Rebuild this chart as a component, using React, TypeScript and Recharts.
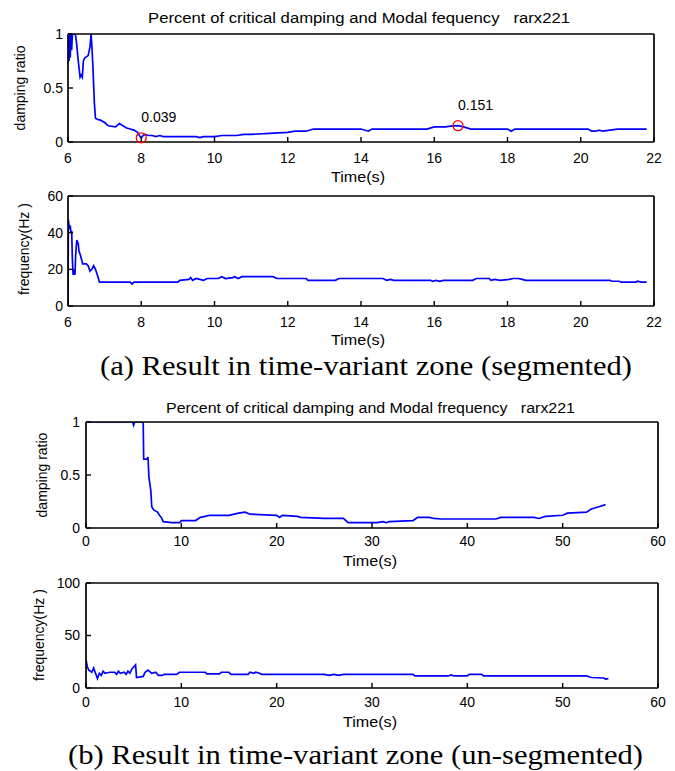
import { LineChart, Line, XAxis, YAxis, ReferenceDot } from 'recharts'

// x ticks
const segTimeTicks = [6, 8, 10, 12, 14, 16, 18, 20, 22]
const fullTimeTicks = [0, 10, 20, 30, 40, 50, 60]
// y ticks
const dampTicks = [0, 0.5, 1]
const segFreqTicks = [0, 20, 40, 60]
const fullFreqTicks = [0, 50, 100]

// (a) segmented: [time (s), damping ratio]
const segDamping: [number, number][] = [
  [6.0, 0.73], [6.02, 0.98], [6.03, 0.75], [6.05, 1.0], [6.06, 0.78], [6.08, 1.0], [6.1, 0.85],
  [6.12, 1.0], [6.2, 1.0], [6.24, 0.9], [6.28, 0.75], [6.33, 0.6], [6.36, 0.62], [6.39, 0.6],
  [6.42, 0.75], [6.46, 0.78], [6.55, 0.8], [6.6, 0.88], [6.63, 1.0], [6.65, 0.9], [6.68, 0.7],
  [6.72, 0.36], [6.75, 0.22], [6.8, 0.21], [6.9, 0.2], [7.0, 0.18], [7.1, 0.15], [7.3, 0.14],
  [7.4, 0.17], [7.5, 0.15], [7.6, 0.13], [7.7, 0.12], [7.8, 0.11], [7.9, 0.09], [7.95, 0.06],
  [8.0, 0.039], [8.05, 0.06], [8.1, 0.07], [8.2, 0.06], [8.3, 0.06], [8.4, 0.05], [8.5, 0.06],
  [8.6, 0.05], [9.0, 0.05], [9.5, 0.05], [9.6, 0.04], [9.7, 0.05], [10.0, 0.05], [10.2, 0.06],
  [10.6, 0.06], [10.8, 0.07], [11.0, 0.07], [11.5, 0.08], [12.0, 0.09], [12.2, 0.1], [12.5, 0.1],
  [12.7, 0.12], [13.0, 0.12], [14.0, 0.12], [14.2, 0.1], [14.3, 0.12], [15.0, 0.12], [15.8, 0.12],
  [16.0, 0.14], [16.3, 0.14], [16.5, 0.15], [16.65, 0.151], [16.8, 0.14], [17.0, 0.12], [18.0, 0.12],
  [18.1, 0.1], [18.2, 0.12], [19.0, 0.12], [20.2, 0.12], [20.3, 0.1], [20.4, 0.1], [20.5, 0.11],
  [20.6, 0.1], [21.0, 0.12], [21.8, 0.12],
]

// (a) segmented: [time (s), frequency (Hz)]
const segFrequency: [number, number][] = [
  [6.0, 1], [6.01, 47], [6.04, 42], [6.06, 44], [6.08, 40], [6.1, 41], [6.12, 25], [6.14, 17],
  [6.17, 20], [6.19, 17], [6.21, 28], [6.24, 36], [6.28, 34], [6.3, 30], [6.35, 27], [6.4, 23],
  [6.5, 23], [6.55, 22], [6.6, 19], [6.65, 20], [6.7, 22], [6.75, 20], [6.8, 17], [6.86, 13],
  [7.7, 13], [7.75, 12], [7.8, 13], [9.0, 13], [9.05, 14], [9.3, 14.5], [9.35, 15.5], [9.4, 14],
  [9.5, 15], [9.6, 14.5], [9.7, 14], [9.8, 15], [10.1, 15], [10.2, 16], [10.3, 15], [10.5, 15.5],
  [10.55, 16], [10.65, 15], [10.75, 16], [11.6, 16], [11.7, 15], [12.5, 15], [12.55, 14], [13.3, 14],
  [13.4, 15], [14.6, 15], [14.7, 14], [14.8, 14.5], [14.9, 14], [15.9, 14], [15.95, 13.5], [16.05, 14],
  [16.15, 13.5], [16.25, 14], [17.05, 14], [17.15, 15], [17.5, 15], [17.55, 14], [17.65, 14.5],
  [17.8, 14], [18.05, 14.5], [18.15, 15], [18.3, 15], [18.4, 14.5], [18.5, 14], [20.8, 14],
  [20.85, 13.5], [21.05, 13.5], [21.1, 13], [21.5, 13], [21.55, 13.5], [21.65, 13], [21.8, 13],
]

// (b) un-segmented: [time (s), damping ratio]
const fullDamping: [number, number][] = [
  [0, 1], [4.9, 1], [5.0, 0.97], [5.1, 1], [6.0, 1], [6.05, 0.65], [6.4, 0.65], [6.5, 0.67],
  [6.6, 0.48], [6.8, 0.35], [6.9, 0.2], [7.1, 0.17], [7.5, 0.15], [7.7, 0.12], [7.9, 0.1],
  [8.1, 0.06], [9.0, 0.05], [9.8, 0.05], [10.0, 0.07], [11.5, 0.07], [12.0, 0.1], [12.5, 0.11],
  [13.0, 0.12], [14.0, 0.12], [15.0, 0.12], [16.0, 0.14], [16.7, 0.15], [17.2, 0.13], [20.0, 0.12],
  [20.3, 0.1], [20.6, 0.12], [22.2, 0.11], [22.5, 0.1], [25, 0.09], [27, 0.09], [27.5, 0.05],
  [30.5, 0.05], [31.2, 0.06], [31.5, 0.05], [31.8, 0.06], [34.3, 0.07], [34.8, 0.1], [36.0, 0.1],
  [36.5, 0.09], [37.2, 0.085], [43.0, 0.085], [43.5, 0.1], [47.0, 0.1], [47.5, 0.09], [48.2, 0.11],
  [50.0, 0.12], [50.5, 0.14], [52.5, 0.15], [53.0, 0.18], [53.8, 0.2], [54.5, 0.22],
]

// (b) un-segmented: [time (s), frequency (Hz)]
const fullFrequency: [number, number][] = [
  [0, 27], [0.15, 20], [0.3, 17], [0.6, 15], [0.8, 19], [1.0, 14], [1.2, 9], [1.4, 14], [1.6, 12],
  [1.8, 16], [2.0, 14], [2.5, 15], [3.0, 15], [3.2, 13], [3.4, 16], [3.6, 14], [4.0, 15], [4.2, 13],
  [4.4, 16], [4.6, 14], [4.8, 18], [5.0, 20], [5.2, 22], [5.3, 10], [6.0, 11], [6.2, 15], [6.5, 17],
  [6.9, 14], [7.3, 15], [7.6, 12], [8.0, 12], [8.2, 13], [9.5, 13], [9.8, 15], [12.5, 15],
  [12.7, 13.5], [14.0, 13.5], [14.2, 15], [15.0, 15], [15.2, 13], [17.0, 13], [17.2, 15], [17.6, 14],
  [17.8, 15], [18.2, 14], [18.4, 13], [25.0, 13], [25.5, 12], [26.0, 13], [26.5, 12], [27.0, 13],
  [34.3, 13], [34.5, 11.5], [38.0, 11.5], [38.3, 12.5], [38.6, 11.5], [40.0, 11.5], [40.2, 13],
  [41.5, 13], [41.7, 11.5], [52.5, 11.5], [53.0, 10], [54.3, 9.5], [54.5, 8.5], [54.8, 9],
]

const peaks = [
  { t: 8.0, v: 0.039, text: '0.039' },
  { t: 16.65, v: 0.151, text: '0.151' },
]

const SANS = '"Liberation Sans", Arial, Helvetica, sans-serif'
const SERIF = '"Liberation Serif", "Times New Roman", serif'
const LINE = '#0000ff'

const tickStyle = { fill: '#000', fontSize: 14, fontFamily: SANS }
const axisLine = { stroke: '#000', strokeWidth: 1.7 }
const tickLine = { stroke: '#000', strokeWidth: 1.4 }

const peakLabel = (text: string) => (props: any) => {
  const vb = props && props.viewBox
  if (!vb) return null
  const cx = vb.x + vb.width / 2
  const cy = vb.y + vb.height / 2
  return (
    <text x={cx} y={cy - 16} fill="#000" fontSize={14} fontFamily={SANS}>
      {text}
    </text>
  )
}

interface PanelProps {
  top: number
  height: number
  plotLeft: number
  plotRight: number
  plotTop: number
  plotBottom: number
  series: [number, number][]
  xDomain: [number, number]
  xTicks: number[]
  yDomain: [number, number]
  yTicks: number[]
  xTickMargin: number
  yTickMargin: number
  marks?: { t: number; v: number; text: string }[]
}

function Panel(p: PanelProps) {
  const rows = p.series.map(([t, v]) => ({ t, v }))
  const axisH = 30
  // the top / right "box" axes take 1px each
  const margin = {
    top: p.plotTop - p.top - 1,
    right: 675 - p.plotRight - 1,
    bottom: p.top + p.height - p.plotBottom - axisH,
    left: 0,
  }
  return (
    <div style={{ position: 'absolute', left: 0, top: p.top, width: 675, height: p.height }}>
      <LineChart width={675} height={p.height} data={rows} margin={margin}>
        <XAxis
          xAxisId="top"
          orientation="top"
          type="number"
          dataKey="t"
          domain={p.xDomain}
          ticks={p.xTicks}
          interval={0}
          allowDataOverflow
          height={1}
          tick={false}
          tickSize={-5}
          axisLine={axisLine}
          tickLine={tickLine}
        />
        <XAxis
          type="number"
          dataKey="t"
          domain={p.xDomain}
          ticks={p.xTicks}
          interval={0}
          allowDataOverflow
          height={axisH}
          tickSize={-5}
          tickMargin={p.xTickMargin}
          tick={tickStyle}
          axisLine={axisLine}
          tickLine={tickLine}
        />
        <YAxis
          yAxisId="right"
          orientation="right"
          type="number"
          domain={p.yDomain}
          ticks={p.yTicks}
          interval={0}
          allowDataOverflow
          width={1}
          tick={false}
          tickSize={-5}
          axisLine={axisLine}
          tickLine={tickLine}
        />
        <YAxis
          type="number"
          domain={p.yDomain}
          ticks={p.yTicks}
          interval={0}
          allowDataOverflow
          width={p.plotLeft}
          tickSize={-5}
          tickMargin={p.yTickMargin}
          tick={tickStyle}
          axisLine={axisLine}
          tickLine={tickLine}
        />
        <Line
          type="linear"
          dataKey="v"
          stroke={LINE}
          strokeWidth={1.7}
          dot={false}
          isAnimationActive={false}
        />
        {(p.marks || []).map((m) => (
          <ReferenceDot
            key={m.text}
            x={m.t}
            y={m.v}
            r={5}
            fill="none"
            stroke="#ff0000"
            strokeWidth={1.3}
            label={peakLabel(m.text)}
          />
        ))}
      </LineChart>
    </div>
  )
}

function YTitle({ x, y, text }: { x: number; y: number; text: string }) {
  return (
    <text
      x={x}
      y={y}
      transform={`rotate(-90 ${x} ${y})`}
      textAnchor="middle"
      fill="#000"
      fontSize={14}
      fontFamily={SANS}
      style={{ whiteSpace: 'pre' }}
    >
      {text}
    </text>
  )
}

function XTitle({ x, y }: { x: number; y: number }) {
  return (
    <text x={x} y={y} textAnchor="middle" fill="#000" fontSize={14} fontFamily={SANS} textLength={54} lengthAdjust="spacingAndGlyphs">
      Time(s)
    </text>
  )
}

export default function App() {
  return (
    <div style={{ position: 'absolute', left: 0, top: 0, width: 675, height: 771, background: '#fff' }}>
      <Panel
        top={0}
        height={190}
        plotLeft={68}
        plotRight={654}
        plotTop={34}
        plotBottom={142}
        series={segDamping}
        xDomain={[6, 22]}
        xTicks={segTimeTicks}
        yDomain={[0, 1]}
        yTicks={dampTicks}
        xTickMargin={16}
        yTickMargin={10}
        marks={peaks}
      />
      <Panel
        top={180}
        height={200}
        plotLeft={68}
        plotRight={654}
        plotTop={196}
        plotBottom={306}
        series={segFrequency}
        xDomain={[6, 22]}
        xTicks={segTimeTicks}
        yDomain={[0, 60]}
        yTicks={segFreqTicks}
        xTickMargin={16}
        yTickMargin={10}
      />
      <Panel
        top={390}
        height={190}
        plotLeft={86}
        plotRight={658}
        plotTop={422}
        plotBottom={528}
        series={fullDamping}
        xDomain={[0, 60]}
        xTicks={fullTimeTicks}
        yDomain={[0, 1]}
        yTicks={dampTicks}
        xTickMargin={13}
        yTickMargin={11}
      />
      <Panel
        top={570}
        height={160}
        plotLeft={86}
        plotRight={658}
        plotTop={583}
        plotBottom={688}
        series={fullFrequency}
        xDomain={[0, 60]}
        xTicks={fullTimeTicks}
        yDomain={[0, 100]}
        yTicks={fullFreqTicks}
        xTickMargin={14}
        yTickMargin={11}
      />
      <svg
        width={675}
        height={771}
        style={{ position: 'absolute', left: 0, top: 0, pointerEvents: 'none' }}
      >
        <text x={148} y={23} fill="#000" fontSize={14} fontFamily={SANS} textLength={422} lengthAdjust="spacingAndGlyphs" style={{ whiteSpace: 'pre' }}>
          {'Percent of critical damping and Modal fequency   rarx221'}
        </text>
        <YTitle x={25} y={88} text="damping ratio" />
        <XTitle x={358} y={182} />
        <YTitle x={29} y={249} text="frequency(Hz )" />
        <XTitle x={358} y={345} />
        <text x={100} y={375} fill="#000" fontSize={28} fontFamily={SERIF} textLength={532} lengthAdjust="spacingAndGlyphs">
          (a) Result in time-variant zone (segmented)
        </text>

        <text x={166} y={413} fill="#000" fontSize={14} fontFamily={SANS} textLength={409} lengthAdjust="spacingAndGlyphs" style={{ whiteSpace: 'pre' }}>
          {'Percent of critical damping and Modal frequency   rarx221'}
        </text>
        <YTitle x={47} y={475} text="damping ratio" />
        <XTitle x={370} y={566} />
        <YTitle x={44} y={635} text="frequency(Hz )" />
        <XTitle x={370} y={727} />
        <text x={68} y={764} fill="#000" fontSize={28} fontFamily={SERIF} textLength={575} lengthAdjust="spacingAndGlyphs" style={{ whiteSpace: 'pre' }}>
          {'(b) Result in time-variant zone (un-segmented)'}
        </text>
      </svg>
    </div>
  )
}
